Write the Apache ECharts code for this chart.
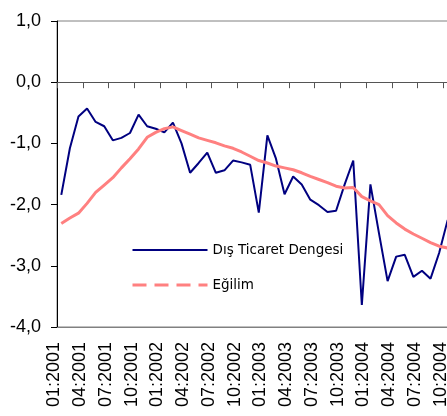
<!DOCTYPE html>
<html>
<head>
<meta charset="utf-8">
<script src="https://cdn.jsdelivr.net/npm/echarts@6/dist/echarts.min.js"></script>
<style>
  html, body { margin: 0; padding: 0; background: #fff; }
  #chart { width: 447px; height: 416px; }
</style>
</head>
<body>
<div id="chart"></div>
<script>
// aylar (01:2001 - 10:2004)
var months = [
  '01:2001','02:2001','03:2001','04:2001','05:2001','06:2001','07:2001','08:2001','09:2001','10:2001','11:2001','12:2001',
  '01:2002','02:2002','03:2002','04:2002','05:2002','06:2002','07:2002','08:2002','09:2002','10:2002','11:2002','12:2002',
  '01:2003','02:2003','03:2003','04:2003','05:2003','06:2003','07:2003','08:2003','09:2003','10:2003','11:2003','12:2003',
  '01:2004','02:2004','03:2004','04:2004','05:2004','06:2004','07:2004','08:2004','09:2004','10:2004'
];

var disTicaret = [
  -1.84, -1.08, -0.56, -0.43, -0.65, -0.72, -0.95, -0.91, -0.83, -0.53, -0.72, -0.76,
  -0.82, -0.66, -1.00, -1.48, -1.32, -1.15, -1.48, -1.44, -1.28, -1.31, -1.35, -2.13,
  -0.87, -1.25, -1.83, -1.54, -1.67, -1.92, -2.01, -2.12, -2.10, -1.67, -1.28, -3.64,
  -1.67, -2.47, -3.25, -2.85, -2.82, -3.18, -3.08, -3.21, -2.79, -2.25
];

var egilim = [
  -2.31, -2.22, -2.14, -1.98, -1.80, -1.68, -1.56, -1.40, -1.25, -1.09, -0.90, -0.82,
  -0.76, -0.73, -0.79, -0.85, -0.91, -0.95, -0.99, -1.04, -1.08, -1.14, -1.21, -1.28,
  -1.32, -1.37, -1.40, -1.43, -1.48, -1.54, -1.59, -1.64, -1.70, -1.73, -1.72, -1.87,
  -1.94, -2.00, -2.18, -2.30, -2.40, -2.48, -2.55, -2.62, -2.68, -2.71
];

var yTicks = { min: -4, max: 1, step: 1 };

var myChart = echarts.init(document.getElementById('chart'));
var option = {
  animation: false,
  grid: {
    left: 57,
    top: 21,
    width: 395,
    height: 306,
    outerBoundsMode: 'none',
    show: true,
    borderColor: '#808080',
    borderWidth: 1
  },
  legend: {
    orient: 'vertical',
    left: 131,
    top: 243,
    padding: 0,
    itemWidth: 75,
    itemHeight: 14,
    itemGap: 21,
    itemStyle: { opacity: 0 },
    textStyle: {
      fontFamily: 'DejaVu Sans',
      fontSize: 13.5,
      color: '#000'
    },
    data: [
      { name: 'Dış Ticaret Dengesi' },
      { name: 'Eğilim', lineStyle: { type: [14, 8], width: 3 } }
    ]
  },
  xAxis: [
    {
      // sifir cizgisi + tikler
      type: 'category',
      data: months,
      boundaryGap: true,
      axisLine: { onZero: true, lineStyle: { color: '#555', width: 1 } },
      axisTick: { show: true, interval: 2, length: 6, lineStyle: { color: '#555' } },
      axisLabel: { show: false },
      splitLine: { show: false }
    },
    {
      // alt etiketler
      type: 'category',
      data: months,
      position: 'bottom',
      boundaryGap: true,
      axisLine: { onZero: false, lineStyle: { color: '#808080', width: 1 } },
      axisTick: { show: false },
      axisLabel: {
        interval: 2,
        rotate: 90,
        margin: 15,
        verticalAlign: 'bottom',
        lineHeight: 14,
        fontFamily: 'Liberation Sans',
        fontSize: 18,
        color: '#000'
      },
      splitLine: { show: false }
    }
  ],
  yAxis: {
    type: 'value',
    min: yTicks.min,
    max: yTicks.max,
    interval: yTicks.step,
    axisLine: { show: true, lineStyle: { color: '#000', width: 1 } },
    axisTick: { show: true, length: 6, lineStyle: { color: '#000' } },
    axisLabel: {
      margin: 16,
      fontFamily: 'Liberation Sans',
      fontSize: 18,
      color: '#000',
      formatter: function (v) { return v.toFixed(1).replace('.', ','); }
    },
    splitLine: { show: false }
  },
  series: [
    {
      name: 'Dış Ticaret Dengesi',
      type: 'line',
      data: disTicaret,
      symbol: 'none',
      lineStyle: { color: '#000080', width: 2 },
      itemStyle: { color: '#000080' }
    },
    {
      name: 'Eğilim',
      type: 'line',
      data: egilim,
      symbol: 'none',
      lineStyle: { color: '#FF8080', width: 3 },
      itemStyle: { color: '#FF8080' }
    }
  ]
};
myChart.setOption(option);
</script>
</body>
</html>
